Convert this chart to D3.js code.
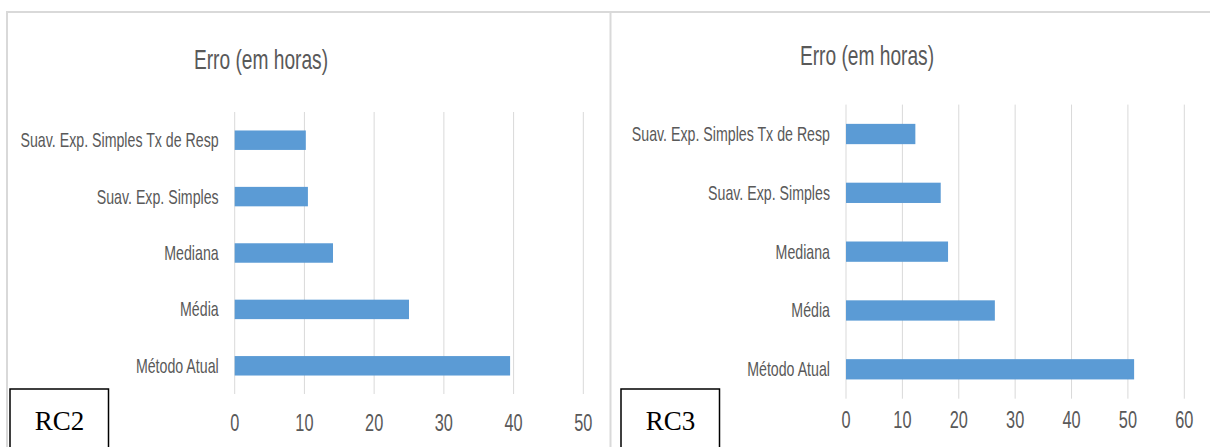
<!DOCTYPE html>
<html>
<head>
<meta charset="utf-8">
<script src="https://cdn.jsdelivr.net/npm/d3@7"></script>
<style>
  body { margin: 0; background: #fff; }
  svg { display: block; }
</style>
</head>
<body>
<div id="chart"></div>
<script>
// categories, top to bottom as drawn
var categories = ["Suav. Exp. Simples Tx de Resp", "Suav. Exp. Simples", "Mediana", "Média", "Método Atual"];
var rc2Values = [10.2, 10.5, 14.1, 25.0, 39.5];
var rc3Values = [12.3, 16.8, 18.1, 26.4, 51.1];
var rc2Ticks = [0, 10, 20, 30, 40, 50];
var rc3Ticks = [0, 10, 20, 30, 40, 50, 60];
var titleText = "Erro (em horas)";

var width = 1210, height = 447;
var sans = "'Liberation Sans Narrow', 'Arial Narrow', 'Liberation Sans', sans-serif";
var squeeze = 0.71; // the source picture is squashed horizontally

var svg = d3.select("#chart").append("svg")
  .attr("width", width)
  .attr("height", height);

// outer frame of the two chart panels
svg.append("path")
  .attr("d", "M7,447V12H1210M610.5,12V447")
  .attr("fill", "none")
  .attr("stroke", "#d9d9d9")
  .attr("stroke-width", 2);

function squeezedText(g, x, y, anchor, size, txt) {
  g.append("g")
    .attr("transform", "translate(" + x + "," + y + ") scale(" + squeeze + ",1)")
    .append("text")
    .attr("text-anchor", anchor)
    .style("font-family", sans)
    .style("font-size", size + "px")
    .attr("fill", "#595959")
    .text(txt);
}

function drawChart(opt) {
  var g = svg.append("g");

  var x = d3.scaleLinear().domain([0, opt.max]).range([opt.x0, opt.x1]);
  var y = d3.scaleBand().domain(categories).range([opt.y0, opt.y1])
    .paddingInner(0.655).paddingOuter(0.3275);

  // grid
  g.append("g").selectAll("line")
    .data(opt.ticks)
    .join("line")
    .attr("x1", d => x(d)).attr("x2", d => x(d))
    .attr("y1", opt.y0).attr("y2", opt.y1)
    .attr("stroke", "#d9d9d9")
    .attr("stroke-width", 1);

  // bars
  g.append("g").selectAll("rect")
    .data(opt.values)
    .join("rect")
    .attr("x", x(0))
    .attr("y", (d, i) => y(categories[i]))
    .attr("width", d => x(d) - x(0))
    .attr("height", y.bandwidth())
    .attr("fill", "#5b9bd5");

  // category labels
  categories.forEach(function (c) {
    squeezedText(g, opt.x0 - 16, y(c) + y.bandwidth() / 2 + 7, "end", 20, c);
  });

  // tick labels
  opt.ticks.forEach(function (t) {
    squeezedText(g, x(t), opt.tickY, "middle", 23, t);
  });

  // title
  squeezedText(g, opt.titleX, opt.titleY, "middle", 27, titleText);

  // label box
  g.append("rect")
    .attr("x", opt.boxX).attr("y", opt.boxY)
    .attr("width", 98.5).attr("height", 70)
    .attr("fill", "#fff")
    .attr("stroke", "#000")
    .attr("stroke-width", 1.5);
  g.append("text")
    .attr("x", opt.boxX + 49.5)
    .attr("y", opt.boxY + 41)
    .attr("text-anchor", "middle")
    .style("font-family", "'Liberation Serif', 'Times New Roman', serif")
    .style("font-size", "27px")
    .attr("fill", "#000")
    .text(opt.name);
}

drawChart({
  name: "RC2", values: rc2Values, ticks: rc2Ticks, max: 50,
  x0: 234.7, x1: 583.3, y0: 112, y1: 394,
  tickY: 431, titleX: 261, titleY: 69,
  boxX: 10, boxY: 389
});

drawChart({
  name: "RC3", values: rc3Values, ticks: rc3Ticks, max: 60,
  x0: 846, x1: 1184.3, y0: 104.6, y1: 398.7,
  tickY: 428, titleX: 867, titleY: 65,
  boxX: 621, boxY: 389
});
</script>
</body>
</html>
